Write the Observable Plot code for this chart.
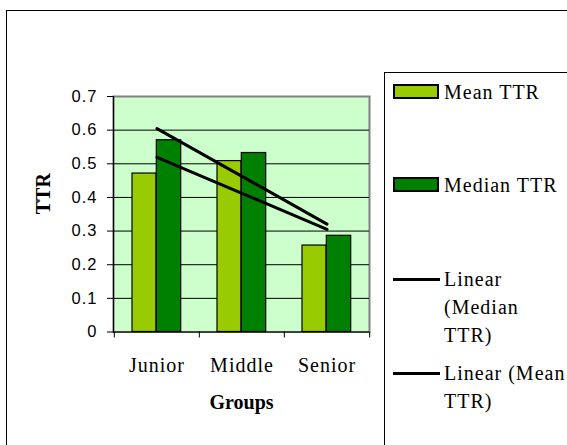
<!DOCTYPE html>
<html>
<head>
<meta charset="utf-8">
<script src="https://cdn.jsdelivr.net/npm/d3@7"></script>
<script src="https://cdn.jsdelivr.net/npm/@observablehq/plot@0.6"></script>
<style>
  body { margin: 0; background: #fff; }
  #wrap { position: relative; width: 567px; height: 445px; overflow: hidden; background: #fff; }
  #outer { position: absolute; left: 6px; top: 10px; width: 700px; height: 600px; border: 1px solid #000; box-sizing: border-box; }
  #chart { position: absolute; left: 0; top: 0; }
  #legend { position: absolute; left: 384px; top: 72px; width: 400px; height: 500px; border: 1px solid #000; box-sizing: border-box; background: #fff;
            font-family: "Liberation Serif", "Times New Roman", serif; font-size: 20px; color: #000; letter-spacing: 1px; }
  .sw { position: absolute; left: 8px; width: 46px; height: 15px; box-sizing: border-box; border: 2px solid #000; }
  .ln { position: absolute; left: 8px; width: 47px; height: 3px; background: #000; }
  .lbl { position: absolute; left: 59px; line-height: 28px; white-space: nowrap; }
  g[aria-label="y-axis tick label"] text { letter-spacing: 1px; }
  g[aria-label="x-axis tick label"] text { letter-spacing: 1px; }
</style>
</head>
<body>
<div id="wrap">
  <div id="outer"></div>
  <div id="chart"></div>
  <div id="legend"></div>
</div>
<script>
// ---- data ----
const groups = ["Junior", "Middle", "Senior"];
const meanTTR = [0.471, 0.508, 0.257];
const medianTTR = [0.570, 0.532, 0.286];
const yTicks = [0, 0.1, 0.2, 0.3, 0.4, 0.5, 0.6, 0.7];
const seriesNames = ["Mean TTR", "Median TTR"];
const seriesColors = ["#99CC00", "#008000"];
const legendLines = [["Mean TTR"], ["Median TTR"], ["Linear", "(Median", "TTR)"], ["Linear (Mean", "TTR)"]];
const xTitle = "Groups";
const yTitle = "TTR";

// ---- layout ----
const W = 567, H = 445;
const mL = 113, mR = 198, mT = 96, mB = 113.5;
const bw = (W - mL - mR) / groups.length;

const rows = groups.flatMap((g, i) => [
  {group: g, series: seriesNames[0], value: meanTTR[i]},
  {group: g, series: seriesNames[1], value: medianTTR[i]}
]);

// least-squares linear trend over group index 1..n
function trend(vals) {
  const xs = vals.map((_, i) => i + 1);
  const mx = d3.mean(xs), my = d3.mean(vals);
  const b = d3.sum(xs, (x, i) => (x - mx) * (vals[i] - my)) / d3.sum(xs, x => (x - mx) ** 2);
  const a = my - b * mx;
  return groups.map((g, i) => ({group: g, value: a + b * xs[i]}));
}

const serif = "Liberation Serif";

const chart = Plot.plot({
  width: W, height: H,
  marginLeft: mL, marginRight: mR, marginTop: mT, marginBottom: mB,
  style: {fontFamily: "Liberation Sans", fontSize: "16px", background: "transparent", color: "#000", overflow: "visible"},
  x: {domain: groups, padding: 0, label: null},
  y: {domain: [0, 0.7], label: null},
  marks: [
    Plot.frame({fill: "#CCFFCC", stroke: "#808080", strokeWidth: 2}),
    Plot.ruleY(yTicks.filter(t => t > 0 && t < 0.7), {stroke: "#000", strokeWidth: 1}),
    Plot.barY(rows.filter(d => d.series === seriesNames[0]), {x: "group", y: "value", fill: seriesColors[0], stroke: "#000", strokeWidth: 1.2, insetLeft: 18, insetRight: 43}),
    Plot.barY(rows.filter(d => d.series === seriesNames[1]), {x: "group", y: "value", fill: seriesColors[1], stroke: "#000", strokeWidth: 1.2, insetLeft: 42.3, insetRight: 18.3}),
    Plot.line(trend(medianTTR), {x: "group", y: "value", stroke: "#000", strokeWidth: 3}),
    Plot.line(trend(meanTTR), {x: "group", y: "value", stroke: "#000", strokeWidth: 3}),
    Plot.ruleY([0], {stroke: "#000", strokeWidth: 1.2}),
    Plot.frame({anchor: "left", stroke: "#000", strokeWidth: 1.2}),
    Plot.axisY({ticks: yTicks, tickSize: 6, tickPadding: 10, label: null, fontSize: 16.5, tickFormat: d => String(d)}),
    Plot.axisX({tickSize: 0, tickPadding: 26, label: null, fontFamily: serif, fontSize: 20}),
    Plot.axisX({tickSize: 6, tickFormat: () => "", label: null, dx: -bw / 2}),
    Plot.axisX({ticks: [groups[groups.length - 1]], tickSize: 6, tickFormat: () => "", label: null, dx: bw / 2}),
    Plot.text([yTitle], {text: d => d, frameAnchor: "left", dx: -70, rotate: -90, fontFamily: serif, fontWeight: "bold", fontSize: 20}),
    Plot.text([xTitle], {text: d => d, frameAnchor: "bottom", dy: 76.5, fontFamily: serif, fontWeight: "bold", fontSize: 20})
  ]
});
document.getElementById("chart").appendChild(chart);

// ---- legend ----
const legend = d3.select("#legend");
const rowTops = [5, 98, 192, 286];
legendLines.forEach((lines, i) => {
  const top = rowTops[i];
  if (i < 2) {
    legend.append("div").attr("class", "sw")
      .style("top", (top + 6) + "px")
      .style("background", seriesColors[i]);
  } else {
    legend.append("div").attr("class", "ln").style("top", (top + 12.5) + "px");
  }
  legend.append("div").attr("class", "lbl").style("top", top + "px").html(lines.join("<br>"));
});
</script>
</body>
</html>
